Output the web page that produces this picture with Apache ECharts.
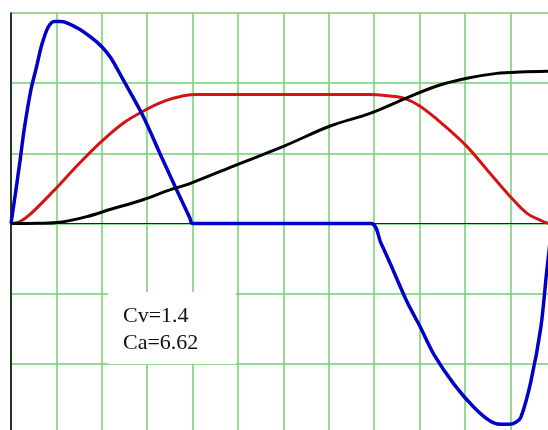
<!DOCTYPE html>
<html>
<head>
<meta charset="utf-8">
<script src="https://cdn.jsdelivr.net/npm/echarts@6/dist/echarts.min.js"></script>
<style>
  html, body { margin: 0; padding: 0; background: #fff; }
  #chart { width: 548px; height: 430px; }
</style>
</head>
<body>
<div id="chart"></div>
<script>
// Motion profile: acceleration (blue), velocity (red), displacement (black)
const accelT = [0, 0.1, 0.2, 0.29, 0.44, 0.55, 0.68, 0.82, 0.95, 1.1, 1.45, 1.75, 2.0, 2.2, 2.47, 2.91, 3.28, 3.65, 3.94, 4.0,
                7.93, 8.15, 8.36, 8.72, 9.02, 9.32, 9.76, 10.2, 10.57, 10.8, 10.97, 11.12, 11.23, 11.45, 11.67, 11.8, 11.92];
const accel  = [0, 0.44, 0.9, 1.34, 1.91, 2.2, 2.55, 2.8, 2.88, 2.88, 2.79, 2.66, 2.52, 2.36, 2.05, 1.53, 1.0, 0.48, 0.08, 0,
                0, -0.28, -0.58, -1.11, -1.48, -1.87, -2.29, -2.62, -2.82, -2.86, -2.86, -2.83, -2.76, -2.25, -1.48, -0.68, 0];

const velT = [0, 0.2, 0.42, 0.93, 1.45, 1.96, 2.47, 2.91, 3.36, 3.8, 4.1, 7.91, 8.3, 8.64, 9.01, 9.52, 10.04, 10.48, 10.99, 11.36, 11.72, 11.85];
const vel  = [0, 0.03, 0.13, 0.46, 0.82, 1.15, 1.43, 1.60, 1.74, 1.82, 1.84, 1.84, 1.82, 1.79, 1.67, 1.41, 1.10, 0.77, 0.39, 0.15, 0.03, 0];

const dispT = [0, 0.6, 1.08, 1.67, 2.18, 2.91, 3.5, 3.94, 4.9, 6.0, 7.03, 7.91, 8.64, 9.38, 10.04, 10.7, 11.21, 11.83];
const disp  = [0, 0.005, 0.02, 0.10, 0.20, 0.34, 0.48, 0.57, 0.82, 1.10, 1.39, 1.57, 1.77, 1.96, 2.07, 2.14, 2.16, 2.17];

const noteLines = ['Cv=1.4', 'Ca=6.62'];

const pairs = (xs, ys) => xs.map((x, i) => [x, ys[i]]);

const gridGreen = '#72cf72';
const serif = '22px "Liberation Serif", "Times New Roman", serif';

const chart = echarts.init(document.getElementById('chart'));
chart.setOption({
  animation: false,
  backgroundColor: '#fff',
  grid: { left: 11, top: 13, width: 544.8, height: 421.2, containLabel: false, outerBoundsMode: 'none' },
  xAxis: {
    type: 'value', min: 0, max: 12, interval: 1,
    axisLine: { show: true, onZero: true, lineStyle: { color: '#222', width: 1 } },
    axisTick: { show: false }, axisLabel: { show: false },
    splitLine: { show: true, lineStyle: { color: gridGreen, width: 1.5 } }
  },
  yAxis: {
    type: 'value', min: -3, max: 3, interval: 1,
    axisLine: { show: true, onZero: false, lineStyle: { color: '#000', width: 1.5 } },
    axisTick: { show: false }, axisLabel: { show: false },
    splitLine: { show: true, lineStyle: { color: gridGreen, width: 1.5 } }
  },
  series: [
    { type: 'line', data: pairs(velT, vel), showSymbol: false, smooth: 0.35,
      lineStyle: { color: '#d41414', width: 3 }, z: 2 },
    { type: 'line', data: pairs(accelT, accel), showSymbol: false, smooth: 0.3,
      lineStyle: { color: '#0000c8', width: 3.5 }, z: 3 },
    { type: 'line', data: pairs(dispT, disp), showSymbol: false, smooth: 0.35,
      lineStyle: { color: '#000', width: 3 }, z: 4 }
  ],
  graphic: [
    { type: 'rect', left: 108, top: 292, shape: { width: 128, height: 72 },
      style: { fill: '#fff' }, z: 5 },
    { type: 'text', left: 123, top: 305, z: 6,
      style: { text: noteLines[0], font: serif, fill: '#111' } },
    { type: 'text', left: 123, top: 332, z: 6,
      style: { text: noteLines[1], font: serif, fill: '#111' } }
  ]
});
</script>
</body>
</html>
